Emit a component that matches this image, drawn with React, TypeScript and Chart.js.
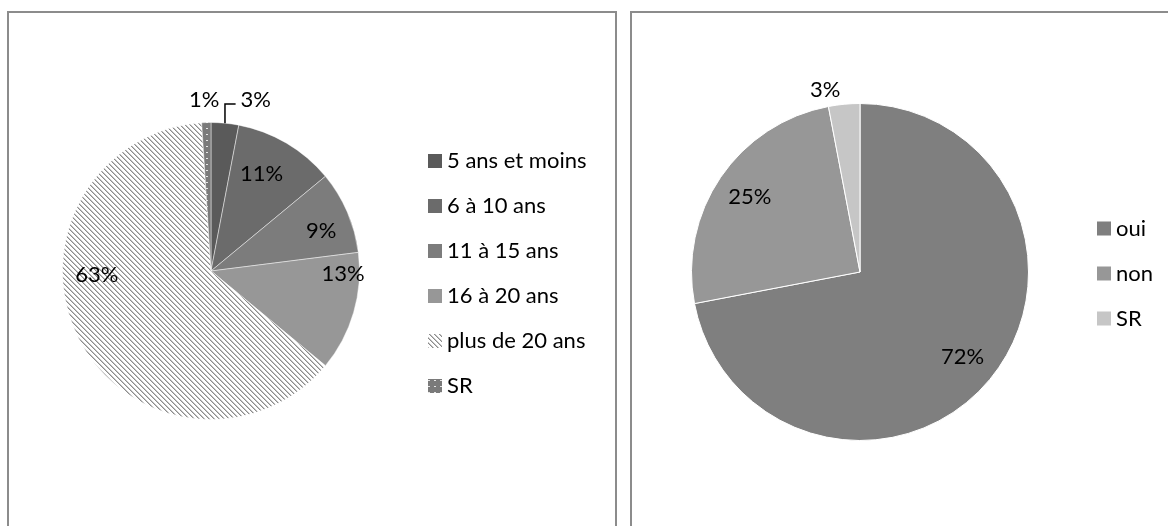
import React, { useEffect, useRef } from "react";
import { Chart, registerables } from "chart.js";

Chart.register(...registerables);

// ---- data ----
const ageLabels = ["5 ans et moins", "6 à 10 ans", "11 à 15 ans", "16 à 20 ans", "plus de 20 ans", "SR"];
const ageValues = [3, 11, 9, 13, 63, 1];
const answerLabels = ["oui", "non", "SR"];
const answerValues = [72, 25, 3];

const FONT = "Lato, 'Open Sans', sans-serif";
const FONT_SIZE = 22;

function makeHatch(): CanvasPattern | string {
  const c = document.createElement("canvas");
  c.width = 5;
  c.height = 5;
  const ctx = c.getContext("2d");
  if (!ctx) return "#ccc";
  const img = ctx.createImageData(5, 5);
  for (let y = 0; y < 5; y++) {
    for (let x = 0; x < 5; x++) {
      const d = (((x - y) % 5) + 5) % 5;
      const g = d === 0 ? 140 : d === 1 ? 195 : 255;
      const k = (y * 5 + x) * 4;
      img.data[k] = g;
      img.data[k + 1] = g;
      img.data[k + 2] = g;
      img.data[k + 3] = 255;
    }
  }
  ctx.putImageData(img, 0, 0);
  return ctx.createPattern(c, "repeat") || "#ccc";
}

function makeDots(): CanvasPattern | string {
  const c = document.createElement("canvas");
  c.width = 6;
  c.height = 6;
  const ctx = c.getContext("2d");
  if (!ctx) return "#888";
  ctx.fillStyle = "#7a7a7a";
  ctx.fillRect(0, 0, 6, 6);
  ctx.fillStyle = "#e6e6e6";
  ctx.fillRect(2, 2, 2, 1);
  return ctx.createPattern(c, "repeat") || "#888";
}

const pieLabels = {
  id: "pieLabels",
  afterDatasetsDraw(chart: any, _args: any, opts: any) {
    const meta = chart.getDatasetMeta(0);
    const ctx = chart.ctx;
    const data = chart.data.datasets[0].data;
    ctx.save();
    ctx.font = `${opts.size}px ${FONT}`;
    ctx.fillStyle = "#000";
    ctx.strokeStyle = "#000";
    ctx.lineWidth = 1.5;
    ctx.textBaseline = "middle";
    meta.data.forEach((arc: any, i: number) => {
      const p = (opts.place && opts.place[i]) || {};
      const { x, y, startAngle, endAngle, outerRadius } = arc.getProps(
        ["x", "y", "startAngle", "endAngle", "outerRadius"],
        true
      );
      const t = p.t ?? 0.5;
      const rf = p.r ?? 0.79;
      const a = startAngle + (endAngle - startAngle) * t;
      const lx = x + Math.cos(a) * outerRadius * rf;
      const ly = y + Math.sin(a) * outerRadius * rf;
      const text = data[i] + "%";
      if (p.leader) {
        const am = (startAngle + endAngle) / 2;
        const ex = x + Math.cos(am) * outerRadius;
        const ey = y + Math.sin(am) * outerRadius;
        const w = ctx.measureText(text).width;
        const tx = lx - w / 2 - 5;
        ctx.beginPath();
        ctx.moveTo(ex, ey);
        ctx.lineTo(ex, ly + 4);
        ctx.lineTo(tx, ly + 4);
        ctx.stroke();
      }
      ctx.textAlign = "center";
      ctx.fillText(text, lx, ly);
    });
    ctx.restore();
  },
};

const sideLegend = {
  id: "sideLegend",
  afterDraw(chart: any, _args: any, opts: any) {
    const ctx = chart.ctx;
    const labels = chart.data.labels;
    const colors = chart.data.datasets[0].backgroundColor;
    const area = chart.chartArea;
    const cy = (area.top + area.bottom) / 2 + opts.shiftY;
    const n = labels.length;
    const x0 = area.right + opts.gap;
    ctx.save();
    ctx.font = `${opts.size}px ${FONT}`;
    ctx.textBaseline = "middle";
    ctx.textAlign = "left";
    for (let i = 0; i < n; i++) {
      const yy = cy + (i - (n - 1) / 2) * opts.spacing;
      ctx.fillStyle = colors[i];
      ctx.fillRect(x0, yy - 7, 14, 14);
      ctx.fillStyle = "#000";
      ctx.fillText(labels[i], x0 + 19, yy);
    }
    ctx.restore();
  },
};

function PieCanvas(props: { build: () => any }) {
  const ref = useRef<HTMLCanvasElement | null>(null);
  useEffect(() => {
    if (!ref.current) return;
    const chart = new Chart(ref.current, props.build());
    return () => chart.destroy();
  }, []);
  return (
    <canvas
      ref={ref}
      width={1168}
      height={526}
      style={{ position: "absolute", left: 0, top: 0, width: 1168, height: 526 }}
    />
  );
}

function buildAge() {
  return {
    type: "pie",
    data: {
      labels: ageLabels,
      datasets: [
        {
          data: ageValues,
          backgroundColor: ["#5a5a5a", "#6b6b6b", "#7c7c7c", "#979797", makeHatch(), makeDots()],
          borderColor: "rgba(255,255,255,0.45)",
          borderWidth: 1,
        },
      ],
    },
    options: {
      responsive: false,
      animation: false,
      events: [],
      layout: { padding: { left: 62, right: 808, top: 122, bottom: 106 } },
      plugins: {
        legend: { display: false },
        tooltip: { enabled: false },
        pieLabels: {
          size: FONT_SIZE,
          place: [
            { r: 1.19, t: 1.36, leader: true },
            { r: 0.74, t: 0.42 },
            { r: 0.79, t: 0.6 },
            { r: 0.89, t: 0.18 },
            { r: 0.77, t: 0.61 },
            { r: 1.15, t: 0.36 },
          ],
        },
        sideLegend: { size: FONT_SIZE, gap: 68, spacing: 45, shiftY: 2.5 },
      },
    },
    plugins: [pieLabels, sideLegend],
  };
}

function buildAnswer() {
  return {
    type: "pie",
    data: {
      labels: answerLabels,
      datasets: [
        {
          data: answerValues,
          backgroundColor: ["#7f7f7f", "#979797", "#c6c6c6"],
          borderColor: "#ffffff",
          borderWidth: 1,
        },
      ],
    },
    options: {
      responsive: false,
      animation: false,
      events: [],
      layout: { padding: { left: 691, right: 139, top: 103, bottom: 85 } },
      plugins: {
        legend: { display: false },
        tooltip: { enabled: false },
        pieLabels: {
          size: FONT_SIZE,
          place: [{ r: 0.79 }, { r: 0.79 }, { r: 1.1, t: 0.0 }],
        },
        sideLegend: { size: FONT_SIZE, gap: 68, spacing: 45, shiftY: 1.5 },
      },
    },
    plugins: [pieLabels, sideLegend],
  };
}

export default function App() {
  const box = {
    position: "absolute" as const,
    top: 11,
    height: 600,
    boxSizing: "border-box" as const,
    border: "2px solid #8c8c8c",
    background: "#fff",
  };
  return (
    <div
      style={{
        position: "fixed",
        left: 0,
        top: 0,
        width: 1168,
        height: 526,
        overflow: "hidden",
        background: "#fff",
      }}
    >
      <div style={{ ...box, left: 7, width: 610 }} />
      <div style={{ ...box, left: 630, width: 700 }} />
      <PieCanvas build={buildAge} />
      <PieCanvas build={buildAnswer} />
    </div>
  );
}
